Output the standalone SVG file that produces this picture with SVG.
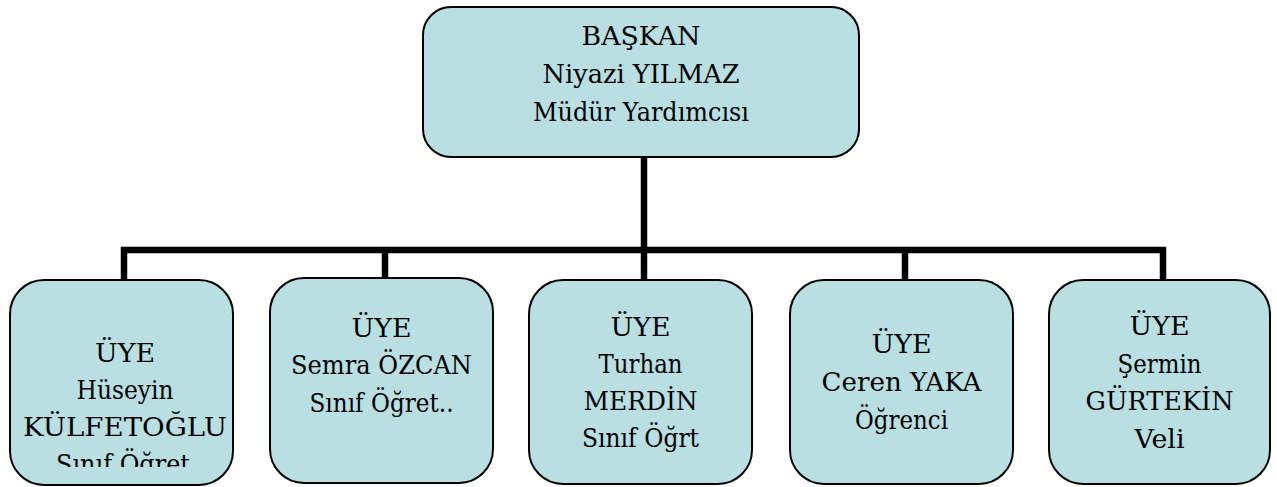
<svg xmlns="http://www.w3.org/2000/svg" width="1277" height="487" viewBox="0 0 1277 487">
<style>
.box{fill:#B9DFE2;stroke:#000;stroke-width:2}
.t{font-family:'DejaVu Serif',serif;font-size:26px;fill:#000;text-anchor:middle}
.conn{fill:none;stroke:#000;stroke-width:6.5;stroke-linejoin:miter}
</style>
<defs>
<clipPath id="clip1"><rect x="10" y="280" width="223" height="187"/></clipPath>
</defs>
<rect width="1277" height="487" fill="#fff"/>
<g id="connectors">
<path class="conn" d="M124 280 V250 H1163 V280"/>
<path class="conn" d="M385 250 V280"/>
<path class="conn" d="M905 250 V280"/>
<path class="conn" d="M644 157 V280"/>
</g>
<g id="baskan">
<rect class="box" x="423" y="7" width="436" height="150" rx="28"/>
<text class="t" x="641" y="45" textLength="119" lengthAdjust="spacingAndGlyphs">BAŞKAN</text>
<text class="t" x="641" y="83" textLength="197" lengthAdjust="spacingAndGlyphs">Niyazi YILMAZ</text>
<text class="t" x="641" y="121" textLength="216" lengthAdjust="spacingAndGlyphs">Müdür Yardımcısı</text>
</g>
<g id="uye1">
<rect class="box" x="10" y="280" width="223" height="205" rx="34"/>
<g clip-path="url(#clip1)">
<text class="t" x="125" y="362" textLength="60" lengthAdjust="spacingAndGlyphs">ÜYE</text>
<text class="t" x="125" y="399" textLength="97" lengthAdjust="spacingAndGlyphs">Hüseyin</text>
<text class="t" x="125" y="436" textLength="204" lengthAdjust="spacingAndGlyphs">KÜLFETOĞLU</text>
<text class="t" x="123" y="473" textLength="134" lengthAdjust="spacingAndGlyphs">Sınıf Öğret</text>
</g>
</g>
<g id="uye2">
<rect class="box" x="270" y="278" width="223" height="205" rx="34"/>
<text class="t" x="381.5" y="337" textLength="60" lengthAdjust="spacingAndGlyphs">ÜYE</text>
<text class="t" x="381.5" y="374" textLength="181" lengthAdjust="spacingAndGlyphs">Semra ÖZCAN</text>
<text class="t" x="381.5" y="412" textLength="144" lengthAdjust="spacingAndGlyphs">Sınıf Öğret..</text>
</g>
<g id="uye3">
<rect class="box" x="529" y="280" width="223" height="204" rx="34"/>
<text class="t" x="640.5" y="336" textLength="60" lengthAdjust="spacingAndGlyphs">ÜYE</text>
<text class="t" x="640.5" y="373" textLength="84" lengthAdjust="spacingAndGlyphs">Turhan</text>
<text class="t" x="640.5" y="410" textLength="114" lengthAdjust="spacingAndGlyphs">MERDİN</text>
<text class="t" x="640.5" y="447" textLength="117" lengthAdjust="spacingAndGlyphs">Sınıf Öğrt</text>
</g>
<g id="uye4">
<rect class="box" x="790" y="280" width="223" height="204" rx="34"/>
<text class="t" x="901.5" y="353" textLength="60" lengthAdjust="spacingAndGlyphs">ÜYE</text>
<text class="t" x="901.5" y="391" textLength="160" lengthAdjust="spacingAndGlyphs">Ceren YAKA</text>
<text class="t" x="901.5" y="429" textLength="93" lengthAdjust="spacingAndGlyphs">Öğrenci</text>
</g>
<g id="uye5">
<rect class="box" x="1049" y="280" width="221" height="204" rx="34"/>
<text class="t" x="1159.5" y="335" textLength="60" lengthAdjust="spacingAndGlyphs">ÜYE</text>
<text class="t" x="1159.5" y="373" textLength="84" lengthAdjust="spacingAndGlyphs">Şermin</text>
<text class="t" x="1159.5" y="410" textLength="148" lengthAdjust="spacingAndGlyphs">GÜRTEKİN</text>
<text class="t" x="1159.5" y="448" textLength="50" lengthAdjust="spacingAndGlyphs">Veli</text>
</g>
</svg>
